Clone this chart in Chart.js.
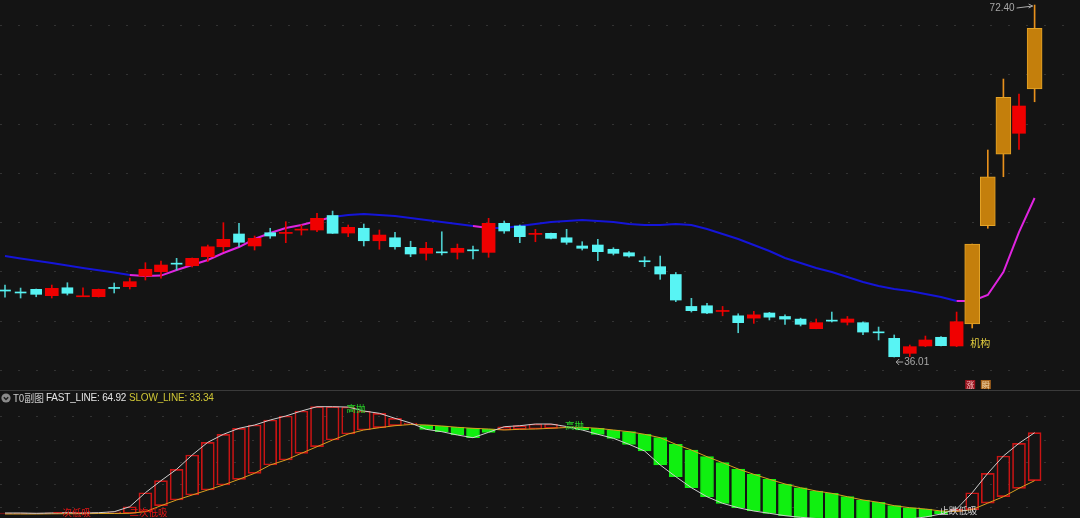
<!DOCTYPE html>
<html>
<head>
<meta charset="utf-8">
<script src="https://cdn.jsdelivr.net/npm/chart.js@4.4.1/dist/chart.umd.min.js"></script>
<style>
html, body { margin: 0; padding: 0; background: #141414; }
#wrap { position: relative; width: 1080px; height: 518px; overflow: hidden; background: #141414; }
#mainBox { position: absolute; left: 0; top: 0; }
#sep { position: absolute; left: 0; top: 390px; width: 1080px; height: 1px; background: #3a3a3a; }
#subBox { position: absolute; left: 0; top: 391px; }
#subTitle { position: absolute; left: 0; top: 391px; width: 300px; height: 13px;
  font: 10px "Liberation Sans", Arial, "Noto Sans CJK SC", sans-serif; letter-spacing: -0.2px; color: #c8c8c8; }
#subTitle span { position: absolute; top: 0; line-height: 13px; white-space: nowrap; }
#subTitle svg { position: absolute; left: 1px; top: 2px; }
</style>
</head>
<body>
<div id="wrap">
  <div id="mainBox"><canvas id="mainChart" width="1080" height="390"></canvas></div>
  <div id="sep"></div>
  <div id="subBox"><canvas id="subChart" width="1080" height="127"></canvas></div>
  <div id="subTitle">
    <svg width="10" height="10" viewBox="0 0 10 10"><circle cx="5" cy="5" r="4.6" fill="#8a8a8a"/><polyline points="2.8,4.2 5,6.4 7.2,4.2" fill="none" stroke="#1c1c1c" stroke-width="1.4"/></svg>
    <span style="left:13px;font-family:'Noto Sans CJK SC',sans-serif;">T0副图</span>
    <span id="fastLbl" style="left:46px;color:#e4e4e4;"></span>
    <span id="slowLbl" style="left:129px;color:#cfc636;"></span>
  </div>
</div>
<script>
// daily candles (price units)
const open = [
  42.94, 42.68, 43.01, 42.35, 43.17, 42.24, 42.25, 43.12, 43.28, 44.38,
  44.83, 45.63, 45.45, 46.38, 47.41, 48.73, 47.49, 48.86, 48.79, 49.13,
  49.14, 50.64, 48.83, 49.32, 48.03, 48.34, 47.35, 46.73, 46.80, 46.83,
  47.01, 46.83, 49.83, 49.55, 48.69, 48.80, 48.34, 47.49, 47.59, 47.15,
  46.79, 45.88, 45.35, 44.54, 41.24, 41.31, 40.72, 40.27, 40.03, 40.56,
  40.20, 39.93, 38.94, 39.74, 39.60, 39.56, 38.53, 37.94, 36.39, 37.15,
  38.05, 37.15, 39.42, 49.58, 56.97, 59.14, 63.72
];
const close = [
  42.83, 42.63, 42.49, 43.11, 42.60, 42.25, 43.01, 43.10, 43.80, 45.08,
  45.52, 45.61, 46.21, 47.41, 48.18, 47.87, 48.28, 48.52, 48.81, 49.15,
  50.35, 48.80, 49.42, 48.03, 48.62, 47.41, 46.66, 47.25, 46.78, 47.25,
  46.99, 49.83, 49.04, 48.45, 48.71, 48.28, 47.87, 47.25, 46.90, 46.73,
  46.45, 45.86, 44.59, 41.90, 40.80, 40.56, 40.74, 39.56, 40.37, 40.13,
  39.93, 39.39, 39.56, 39.72, 39.94, 38.59, 38.51, 36.04, 37.08, 37.77,
  37.18, 39.66, 47.69, 54.65, 62.86, 61.96, 69.99
];
const high = [
  43.45, 43.14, 43.04, 43.45, 43.69, 43.17, 43.04, 43.66, 44.18, 45.76,
  45.93, 46.21, 46.25, 47.59, 49.90, 49.83, 48.52, 49.32, 50.00, 49.66,
  50.87, 51.10, 49.66, 49.76, 49.14, 48.90, 47.98, 47.87, 48.96, 47.69,
  47.49, 50.35, 50.07, 49.66, 49.21, 48.83, 49.21, 47.93, 48.18, 47.31,
  46.90, 46.38, 46.45, 44.75, 42.08, 41.56, 41.24, 40.48, 40.73, 40.63,
  40.37, 40.03, 39.94, 40.66, 40.20, 39.66, 39.11, 38.29, 37.25, 38.18,
  38.12, 40.66, 47.69, 57.41, 64.75, 63.20, 72.40
];
const low = [
  42.21, 42.11, 42.24, 42.11, 42.42, 42.24, 42.21, 42.63, 43.04, 43.97,
  44.15, 45.00, 45.32, 45.87, 46.90, 47.41, 47.07, 48.28, 47.83, 48.62,
  48.96, 48.78, 48.45, 47.49, 47.15, 47.15, 46.38, 46.04, 46.56, 46.14,
  46.14, 46.32, 48.80, 47.83, 47.93, 48.21, 47.66, 47.07, 45.97, 46.56,
  46.32, 45.35, 44.04, 41.73, 40.66, 40.48, 40.27, 38.52, 39.49, 39.84,
  39.39, 39.22, 38.93, 39.63, 39.32, 38.32, 37.77, 36.01, 36.05, 37.08,
  37.15, 37.08, 39.01, 49.32, 54.65, 57.48, 62.40
];
// days flagged by the software (drawn in orange)
const hotDays = [62, 63, 64, 66];

// moving average line and its rising-phase flags (magenta)
const ma = [
  46.45, 46.20, 45.97, 45.72, 45.47, 45.22, 44.98, 44.74, 44.49, 44.38,
  44.43, 45.00, 45.52, 46.04, 46.76, 47.38, 48.21, 48.83, 49.35, 49.66,
  50.07, 50.48, 50.69, 50.79, 50.69, 50.59, 50.38, 50.17, 49.97, 49.76,
  49.55, 49.35, 49.35, 49.55, 49.76, 49.97, 50.07, 50.17, 50.07, 49.97,
  49.76, 49.66, 49.66, 49.76, 49.66, 49.24, 48.73, 48.21, 47.59, 46.97,
  46.25, 45.73, 45.21, 44.80, 44.28, 43.76, 43.35, 43.04, 42.83, 42.52,
  42.21, 41.80, 41.80, 42.42, 44.80, 48.93, 52.45
];
const maRise = [
  0, 0, 0, 0, 0, 0, 0, 0, 1, 1,
  1, 1, 1, 1, 1, 1, 1, 1, 1, 1,
  1, 0, 0, 0, 0, 0, 0, 0, 0, 0,
  1, 0, 0, 0, 0, 0, 0, 0, 0, 0,
  0, 0, 0, 0, 0, 0, 0, 0, 0, 0,
  0, 0, 0, 0, 0, 0, 0, 0, 0, 0,
  0, 1, 1, 1, 1, 1, 0
];

// T0 sub-chart
const fastLine = [
  12.09, 12.09, 11.89, 12.09, 12.29, 12.09, 12.29, 12.94, 16.23, 25.44,
  33.34, 40.84, 50.25, 58.60, 63.86, 67.81, 69.98, 73.27, 75.90, 79.19,
  82.02, 82.02, 81.80, 79.19, 77.68, 74.39, 71.30, 67.15, 65.58, 63.40,
  61.63, 65.18, 68.86, 69.52, 70.64, 70.64, 68.99, 66.69, 63.86, 61.23,
  57.28, 52.88, 43.67, 35.97, 28.73, 22.81, 18.47, 15.57, 13.40, 11.89,
  10.31, 9.26, 8.47, 7.81, 7.48, 7.15, 7.15, 7.48, 8.14, 9.46,
  11.43, 14.72, 25.44, 38.21, 49.59, 57.94, 64.92
];
const slowLine = [
  11.43, 11.43, 11.43, 11.56, 11.62, 11.62, 11.76, 11.76, 11.89, 12.94,
  16.89, 20.64, 23.93, 27.22, 30.51, 34.26, 38.21, 43.67, 46.96, 51.36,
  55.71, 60.11, 64.06, 66.69, 68.21, 69.52, 70.31, 69.98, 69.32, 68.47,
  67.81, 67.35, 66.69, 67.15, 67.35, 67.81, 68.33, 68.47, 67.81, 66.69,
  65.58, 63.86, 61.63, 57.28, 53.53, 49.13, 45.18, 41.03, 37.55, 34.26,
  31.17, 28.73, 26.56, 25.05, 22.81, 20.64, 19.13, 16.89, 15.57, 14.72,
  13.40, 13.10, 14.30, 18.60, 22.81, 28.34, 33.34
];
const sigText = ['一次低吸', '二次低吸', '高抛', '高抛', '止跌低吸'];
const sigAt = [4.3, 9.2, 22.5, 36.5, 61.1];
const sigVal = [12.6, 12.6, 81.2, 69.6, 14.1];
const sigKind = ['buy', 'buy', 'sell', 'sell', 'stop'];

// marks on the price chart
const eventDay = 62, eventText = '机构';
const tagDays = [62, 63], tagText = ['涨', '瞬'];

// dotted grid levels
const priceGrid = [70.28, 65.22, 60.05, 54.98, 49.92, 44.85, 39.68, 34.62];
const subGrid = [75.25, 60.11, 45.32, 30.51, 15.70];

const idx = open.map((_, i) => i);
const isHot = i => hotDays.includes(i);
const isUp = i => close[i] >= open[i];

const upBodies = idx.filter(i => !isHot(i) && isUp(i)).map(i => ({ x: i, y: [open[i], close[i]] }));
const downBodies = idx.filter(i => !isHot(i) && !isUp(i)).map(i => ({ x: i, y: [open[i], close[i]] }));
const hotBodies = idx.filter(isHot).map(i => ({ x: i, y: [open[i], close[i]] }));
const wicks = idx.map(i => ({ x: i, y: [low[i], high[i]] }));
const wickColors = idx.map(i => isHot(i) ? '#e8901c' : (isUp(i) ? '#e80000' : '#4ccaca'));

const xScale = { type: 'linear', min: -0.32, max: 68.91, offset: false, display: false };
const CJK = '"Noto Sans CJK SC", sans-serif';

const mainMarks = {
  id: 'mainMarks',
  afterDatasetsDraw(chart) {
    const { ctx, scales: { x, y }, chartArea } = chart;
    ctx.save();
    ctx.strokeStyle = '#a8a8a8';
    ctx.fillStyle = '#a8a8a8';
    ctx.lineWidth = 1;
    ctx.font = '10px "Liberation Sans", Arial, sans-serif';
    ctx.textBaseline = 'middle';

    const hi = Math.max(...high), iHi = high.indexOf(hi);
    let px = x.getPixelForValue(iHi), py = y.getPixelForValue(hi);
    ctx.textAlign = 'right';
    ctx.fillText(hi.toFixed(2), px - 20, py + 3);
    ctx.beginPath();
    ctx.moveTo(px - 18, py + 3); ctx.lineTo(px - 2, py + 1);
    ctx.moveTo(px - 6, py - 1); ctx.lineTo(px - 2, py + 1); ctx.lineTo(px - 6, py + 3);
    ctx.stroke();

    const lo = Math.min(...low), iLo = low.indexOf(lo);
    px = x.getPixelForValue(iLo); py = y.getPixelForValue(lo);
    ctx.textAlign = 'left';
    ctx.fillText(lo.toFixed(2), px + 10, py + 5);
    ctx.beginPath();
    ctx.moveTo(px + 9, py + 5); ctx.lineTo(px + 2, py + 5);
    ctx.moveTo(px + 5, py + 2); ctx.lineTo(px + 2, py + 5); ctx.lineTo(px + 5, py + 8);
    ctx.stroke();

    ctx.font = '10px ' + CJK;
    ctx.fillStyle = '#e6d040';
    ctx.fillText(eventText, x.getPixelForValue(eventDay) - 2, y.getPixelForValue(low[eventDay]) + 15);

    const tagBg = ['#9c1420', '#a8641c'], tagFg = ['#f2c4c4', '#f6dcb0'];
    ctx.font = '8px ' + CJK;
    ctx.textAlign = 'center';
    tagDays.forEach((d, k) => {
      const cx = x.getPixelForValue(d) - 2;
      ctx.fillStyle = tagBg[k];
      ctx.fillRect(cx - 5, chartArea.bottom - 10, 10, 9);
      ctx.fillStyle = tagFg[k];
      ctx.fillText(tagText[k], cx, chartArea.bottom - 5.5);
    });
    ctx.restore();
  }
};

new Chart(document.getElementById('mainChart'), {
  type: 'bar',
  data: {
    datasets: [
      {
        type: 'line', data: idx.map(i => ({ x: i, y: ma[i] })), order: 5,
        borderColor: '#1515d8', borderWidth: 2, pointRadius: 0,
        segment: { borderColor: c => maRise[c.p0DataIndex] ? '#e024e0' : '#1515d8' }
      },
      { data: wicks, backgroundColor: wickColors, barThickness: 1, grouped: false, order: 3 },
      { data: upBodies, backgroundColor: '#f00000', barThickness: 13, minBarLength: 1, grouped: false, order: 1 },
      { data: downBodies, backgroundColor: '#58f4f4', barThickness: 11, minBarLength: 1, grouped: false, order: 1 },
      { data: hotBodies, backgroundColor: '#c47f0c', borderColor: '#e4a428', borderWidth: 1, borderSkipped: false,
        barThickness: 15, grouped: false, order: 1 }
    ]
  },
  options: {
    responsive: false,
    animation: false,
    layout: { padding: 0 },
    plugins: { legend: { display: false }, tooltip: { enabled: false } },
    scales: {
      x: xScale,
      y: {
        min: 32.60, max: 72.92,
        afterFit: s => { s.width = 0; },
        afterBuildTicks: s => { s.ticks = priceGrid.map(v => ({ value: v })); },
        ticks: { display: false },
        grid: { color: '#333333', drawTicks: false },
        border: { display: false, dash: [2, 16] }
      }
    }
  },
  plugins: [mainMarks]
});

const subMarks = {
  id: 'subMarks',
  afterDatasetsDraw(chart) {
    const { ctx, scales: { x, y } } = chart;
    const colors = { buy: '#e81414', sell: '#28d828', stop: '#d4d4d4' };
    ctx.save();
    ctx.font = '9.5px ' + CJK;
    ctx.textAlign = 'center';
    ctx.textBaseline = 'middle';
    sigText.forEach((t, k) => {
      ctx.fillStyle = colors[sigKind[k]];
      ctx.fillText(t, x.getPixelForValue(sigAt[k]), y.getPixelForValue(sigVal[k]));
    });
    ctx.restore();
  }
};

const fastUp = i => fastLine[i] >= slowLine[i];

new Chart(document.getElementById('subChart'), {
  type: 'bar',
  data: {
    datasets: [
      { type: 'line', data: idx.map(i => ({ x: i, y: fastLine[i] })), borderColor: '#cfcfcf', borderWidth: 1, pointRadius: 0, order: 0 },
      { type: 'line', data: idx.map(i => ({ x: i, y: slowLine[i] })), borderColor: '#d8a020', borderWidth: 1, pointRadius: 0, order: 0 },
      {
        data: idx.map(i => ({ x: i, y: [slowLine[i], fastLine[i]] })),
        backgroundColor: c => fastUp(c.dataIndex) ? 'rgba(0,0,0,0)' : '#10f010',
        borderColor: c => fastUp(c.dataIndex) ? '#c81414' : '#10f010',
        borderWidth: 1, borderSkipped: false, barThickness: 13, minBarLength: 1, grouped: false, order: 1
      }
    ]
  },
  options: {
    responsive: false,
    animation: false,
    layout: { padding: 0 },
    plugins: { legend: { display: false }, tooltip: { enabled: false } },
    scales: {
      x: xScale,
      y: {
        min: 8.80, max: 92.35,
        afterFit: s => { s.width = 0; },
        afterBuildTicks: s => { s.ticks = subGrid.map(v => ({ value: v })); },
        ticks: { display: false },
        grid: { color: '#333333', drawTicks: false },
        border: { display: false, dash: [2, 16] }
      }
    }
  },
  plugins: [subMarks]
});

document.getElementById('fastLbl').textContent = 'FAST_LINE: ' + fastLine[fastLine.length - 1].toFixed(2);
document.getElementById('slowLbl').textContent = 'SLOW_LINE: ' + slowLine[slowLine.length - 1].toFixed(2);
</script>
</body>
</html>
